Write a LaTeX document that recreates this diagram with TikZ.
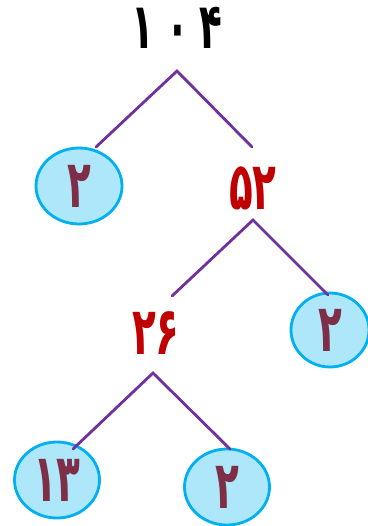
\documentclass[tikz,border=0pt]{standalone}
\usepackage{graphicx}
\usepackage{fontspec}
\newfontfamily\fafont[Script=Arabic]{DejaVu Sans}
\usetikzlibrary{shapes.geometric}
\definecolor{branch}{HTML}{7030A0}
\definecolor{ringblue}{HTML}{00B0F0}
\definecolor{ringfill}{HTML}{AEE6FA}
\definecolor{numred}{HTML}{C00000}
\definecolor{numdark}{HTML}{7E2F47}
\newcommand{\tallnum}[1]{\scalebox{0.85}[1.45]{#1}}
\tikzset{
  branchline/.style={draw=branch, line width=2.8bp, line join=miter, line cap=round},
  ring/.style={ellipse, draw=ringblue, fill=ringfill, line width=2.8bp, inner sep=0pt,
    font=\fafont\bfseries\fontsize{46}{46}\selectfont, text=numdark},
  rednum/.style={inner sep=0pt, font=\fafont\bfseries\fontsize{46}{46}\selectfont, text=numred},
  topnum/.style={inner sep=0pt, font=\fafont\bfseries\fontsize{44}{44}\selectfont, text=black}
}
\begin{document}
\begin{tikzpicture}[x=1bp,y=-1bp]
\useasboundingbox (0,0) rectangle (367,526);
% numbers
\node[topnum] (n104) at (177,28) {\tallnum{۱\hspace{14bp}۰\hspace{12bp}۴}};
\node[ring, minimum width=86bp, minimum height=76bp] (c1) at (79,186) {\tallnum{۲}};
\node[rednum] (n52) at (253,188) {\tallnum{۵۲}};
\node[ring, minimum width=78bp, minimum height=74bp] (c2) at (330,330) {\tallnum{۲}};
\node[rednum] (n26) at (156,333) {\tallnum{۲۶}};
\node[ring, minimum width=85bp, minimum height=76bp] (c3) at (57,480) {\tallnum{۱۳}};
\node[ring, minimum width=85bp, minimum height=76bp] (c4) at (227,487) {\tallnum{۲}};
% branch points
\coordinate (a1) at (177,71);
\coordinate (e1l) at (96,147);
\coordinate (e1r) at (252,147);
\coordinate (a2) at (253,220);
\coordinate (e2l) at (172,296);
\coordinate (e2r) at (328,295);
\coordinate (a3) at (153,373);
\coordinate (e3l) at (73,449);
\coordinate (e3r) at (230,449);
\draw[branchline] (e1l) -- (a1) -- (e1r);
\draw[branchline] (e2l) -- (a2) -- (e2r);
\draw[branchline] (e3l) -- (a3) -- (e3r);
\end{tikzpicture}
\end{document}
